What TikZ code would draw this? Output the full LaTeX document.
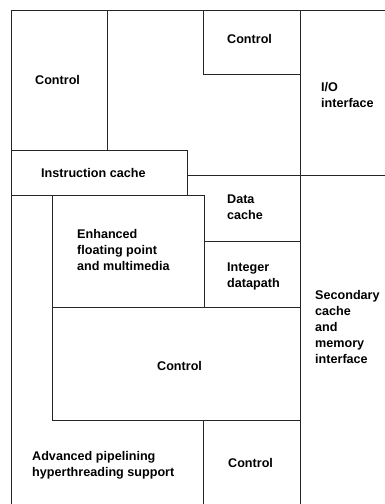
\documentclass[tikz,border=0pt]{standalone}
\usepackage{fontspec}
\setmainfont{Liberation Sans}
\begin{document}
\begin{tikzpicture}[x=1pt,y=-1pt,
  wall/.style={draw=black!85,line width=0.8pt},
  lbl/.style={font=\bfseries\fontsize{12.6}{16}\selectfont,align=left,anchor=west,inner sep=0pt}]
\useasboundingbox (0,0) rectangle (385,504);
% outer frame (open to the right and bottom)
\draw[wall] (385,10) -- (11,10) -- (11,504);
% top-left control block
\draw[wall] (107,10) -- (107,150);
% top-right control block
\draw[wall] (203,10) -- (203,74) -- (300,74);
% spine separating the interface column
\draw[wall] (300,10) -- (300,504);
% instruction cache
\draw[wall] (11,150) rectangle (187,195);
\draw[wall] (187,175) -- (385,175);
% floating point / data cache / integer datapath
\draw[wall] (187,195) -- (204,195) -- (204,307);
\draw[wall] (52,195) -- (52,420);
\draw[wall] (204,241) -- (300,241);
\draw[wall] (52,307) -- (300,307);
% middle control block and lower control block
\draw[wall] (52,420) -- (300,420);
\draw[wall] (203,420) -- (203,504);

\node[lbl] (ctlA) at (35,80) {Control};
\node[lbl] (ctlB) at (227,39) {Control};
\node[lbl] (io) at (321,94.5) {I/O\\interface};
\node[lbl] (icache) at (41,173) {Instruction cache};
\node[lbl] (fp) at (77,250) {Enhanced\\floating point\\and multimedia};
\node[lbl] (dcache) at (227,207) {Data\\cache};
\node[lbl] (intdp) at (227,276) {Integer\\datapath};
\node[lbl] (l2) at (315,326.5) {Secondary\\cache\\and\\memory\\interface};
\node[lbl] (ctlC) at (157,366) {Control};
\node[lbl] (pipe) at (32,465) {Advanced pipelining\\hyperthreading support};
\node[lbl] (ctlD) at (228,463) {Control};
\end{tikzpicture}
\end{document}
